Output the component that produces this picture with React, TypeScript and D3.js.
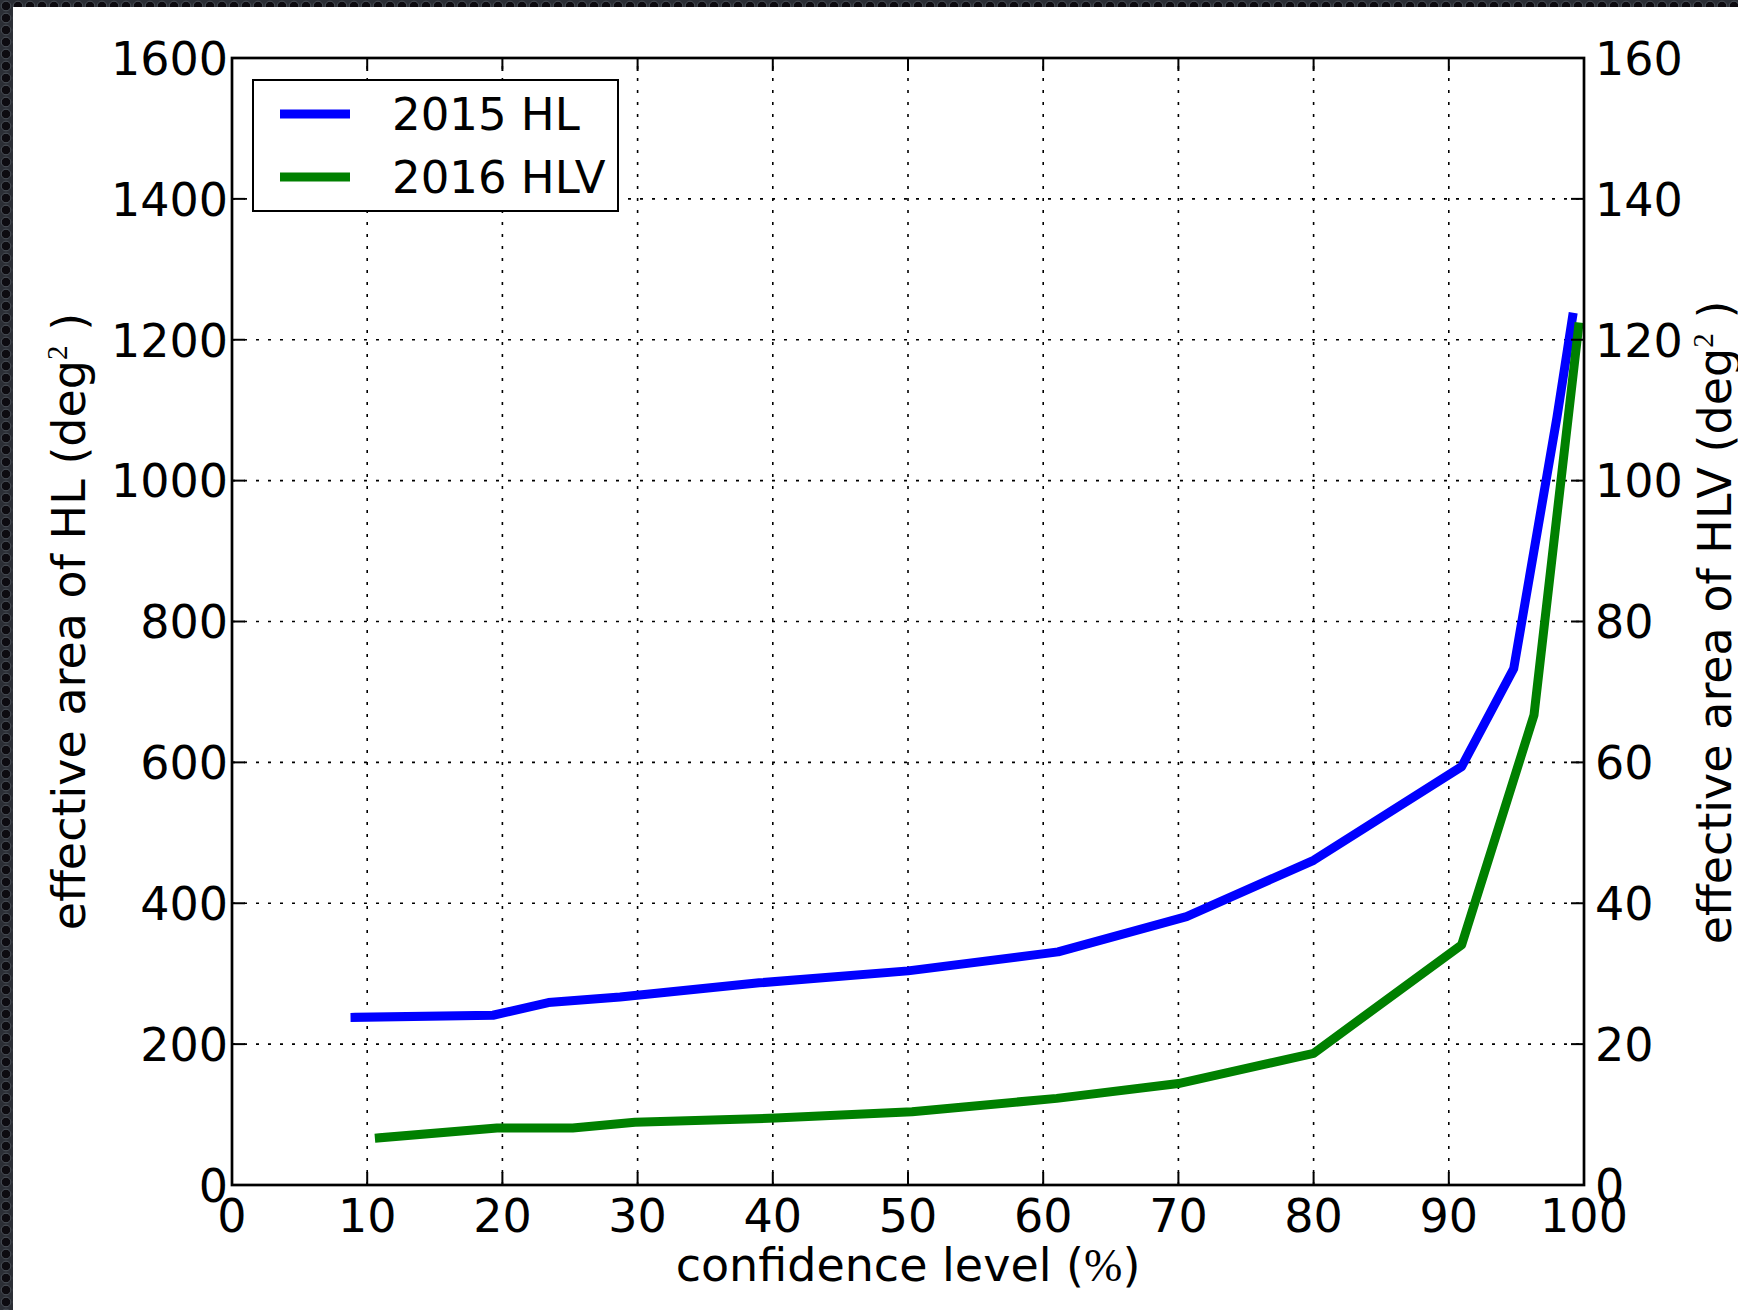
import { useEffect, useRef } from "react"
import * as d3 from "d3"

// 2015 HL (left axis, deg^2)
const confHL = [9.1, 19.3, 23.4, 28.7, 39, 50, 61.1, 70.6, 80, 90.95, 94.8, 98.0, 99.15]
const areaHL = [238, 241, 259, 267, 287, 304, 331, 381, 461, 594, 733, 1090, 1232]

// 2016 HLV (right axis, deg^2)
const confHLV = [10.9, 19.6, 25.2, 29.8, 40.2, 50.3, 61, 70, 80, 90.95, 96.3, 99.6]
const areaHLV = [6.7, 8.1, 8.1, 8.9, 9.5, 10.4, 12.3, 14.4, 18.7, 34.1, 66.7, 121.8]

const xTicks = [0, 10, 20, 30, 40, 50, 60, 70, 80, 90, 100]
const yLeftTicks = [0, 200, 400, 600, 800, 1000, 1200, 1400, 1600]
const yRightTicks = [0, 20, 40, 60, 80, 100, 120, 140, 160]

const seriesNames = ['2015 HL', '2016 HLV']
const seriesColors = ['#0000ff', '#008000']

const FONT = '"DejaVu Sans", sans-serif'

export default function App() {
    const ref = useRef<SVGSVGElement | null>(null)

    useEffect(() => {
        const svg = d3.select(ref.current)
        svg.selectAll('*').remove()
        buildGraph(svg)
    }, [])

    function buildGraph(svg: any, {
        width = 1738,
        height = 1310,
        left = 232,
        right = 1584,
        top = 58,
        bottom = 1185,
        fontSize = 46,
        tickLen = 13,
    } = {}) {
        const x = d3.scaleLinear().domain([0, 100]).range([left, right])
        const yL = d3.scaleLinear().domain([0, 1600]).range([bottom, top])
        const yR = d3.scaleLinear().domain([0, 160]).range([bottom, top])

        const defs = svg.append('defs')
        const pat = defs.append('pattern')
            .attr('id', 'bgdots')
            .attr('patternUnits', 'userSpaceOnUse')
            .attr('width', 12)
            .attr('height', 12)
        pat.append('rect').attr('width', 12).attr('height', 12).attr('fill', '#2b2e35')
        pat.append('circle')
            .attr('cx', 6).attr('cy', 6).attr('r', 4.8)
            .attr('fill', '#0d0b10')
            .attr('stroke', '#4a5058')
            .attr('stroke-width', 1)

        defs.append('clipPath').attr('id', 'plotclip')
            .append('rect')
                .attr('x', left).attr('y', top)
                .attr('width', right - left).attr('height', bottom - top)

        // background
        svg.append('rect').attr('width', width).attr('height', height).attr('fill', 'url(#bgdots)')
        svg.append('rect').attr('x', 13).attr('y', 7).attr('width', width - 13).attr('height', height - 7).attr('fill', '#fff')

        // grid
        const grid = svg.append('g')
            .attr('stroke', '#000')
            .attr('stroke-width', 1.6)
            .attr('stroke-dasharray', '3 9')
        grid.selectAll('line.gx')
            .data(xTicks)
            .join('line')
                .attr('class', 'gx')
                .attr('x1', (d: number) => x(d)).attr('x2', (d: number) => x(d))
                .attr('y1', bottom).attr('y2', top)
        grid.selectAll('line.gy')
            .data(yLeftTicks)
            .join('line')
                .attr('class', 'gy')
                .attr('x1', left).attr('x2', right)
                .attr('y1', (d: number) => yL(d)).attr('y2', (d: number) => yL(d))

        // lines
        const lineHL = d3.line<number>()
            .x((_, i) => x(confHL[i]))
            .y(d => yL(d))
        const lineHLV = d3.line<number>()
            .x((_, i) => x(confHLV[i]))
            .y(d => yR(d))

        const plot = svg.append('g').attr('clip-path', 'url(#plotclip)')
        plot.append('path')
            .attr('d', lineHL(areaHL))
            .attr('fill', 'none')
            .attr('stroke', seriesColors[0])
            .attr('stroke-width', 9)
            .attr('stroke-linejoin', 'round')
            .attr('stroke-linecap', 'square')
        plot.append('path')
            .attr('d', lineHLV(areaHLV))
            .attr('fill', 'none')
            .attr('stroke', seriesColors[1])
            .attr('stroke-width', 9)
            .attr('stroke-linejoin', 'round')
            .attr('stroke-linecap', 'square')

        // ticks
        const ticks = svg.append('g').attr('stroke', '#000').attr('stroke-width', 2)
        ticks.selectAll('line.tb')
            .data(xTicks)
            .join('line')
                .attr('class', 'tb')
                .attr('x1', (d: number) => x(d)).attr('x2', (d: number) => x(d))
                .attr('y1', bottom).attr('y2', bottom - tickLen)
        ticks.selectAll('line.tt')
            .data(xTicks)
            .join('line')
                .attr('class', 'tt')
                .attr('x1', (d: number) => x(d)).attr('x2', (d: number) => x(d))
                .attr('y1', top).attr('y2', top + tickLen)
        ticks.selectAll('line.tl')
            .data(yLeftTicks)
            .join('line')
                .attr('class', 'tl')
                .attr('x1', left).attr('x2', left + tickLen)
                .attr('y1', (d: number) => yL(d)).attr('y2', (d: number) => yL(d))
        ticks.selectAll('line.tr')
            .data(yRightTicks)
            .join('line')
                .attr('class', 'tr')
                .attr('x1', right).attr('x2', right - tickLen)
                .attr('y1', (d: number) => yR(d)).attr('y2', (d: number) => yR(d))

        // spines
        svg.append('rect')
            .attr('x', left).attr('y', top)
            .attr('width', right - left).attr('height', bottom - top)
            .attr('fill', 'none')
            .attr('stroke', '#000')
            .attr('stroke-width', 2.7)

        // tick labels
        const labels = svg.append('g')
            .attr('font-family', FONT)
            .attr('font-size', fontSize)
            .attr('fill', '#000')
        labels.selectAll('text.xl')
            .data(xTicks)
            .join('text')
                .attr('class', 'xl')
                .attr('x', (d: number) => x(d))
                .attr('y', 1232)
                .attr('text-anchor', 'middle')
                .text((d: number) => d)
        labels.selectAll('text.yl')
            .data(yLeftTicks)
            .join('text')
                .attr('class', 'yl')
                .attr('x', left - 4)
                .attr('y', (d: number) => yL(d) + 16.8)
                .attr('text-anchor', 'end')
                .text((d: number) => d)
        labels.selectAll('text.yr')
            .data(yRightTicks)
            .join('text')
                .attr('class', 'yr')
                .attr('x', right + 11)
                .attr('y', (d: number) => yR(d) + 16.8)
                .attr('text-anchor', 'start')
                .text((d: number) => d)

        // axis titles
        const xTitle = labels.append('text')
            .attr('x', (left + right) / 2)
            .attr('y', 1281)
            .attr('text-anchor', 'middle')
        xTitle.append('tspan').text('confidence level (')
        xTitle.append('tspan').attr('font-family', '"Liberation Serif", serif').text('%')
        xTitle.append('tspan').text(')')

        function yTitle(tx: number, ty: number, name: string) {
            const t = labels.append('text')
                .attr('transform', `translate(${tx},${ty})rotate(-90)`)
                .attr('text-anchor', 'middle')
            t.append('tspan').text(`effective area of ${name} (deg`)
            t.append('tspan')
                .attr('font-family', '"Liberation Serif", serif')
                .attr('font-size', 29)
                .attr('dy', -18)
                .text('2')
            t.append('tspan').attr('dy', 18).text('\u00a0)')
        }
        yTitle(85, (top + bottom) / 2, 'HL')
        yTitle(1731, (top + bottom) / 2 + 1, 'HLV')

        // legend
        const legend = svg.append('g')
        legend.append('rect')
            .attr('x', 253).attr('y', 80)
            .attr('width', 365).attr('height', 131)
            .attr('fill', '#fff')
            .attr('stroke', '#000')
            .attr('stroke-width', 2)
        const rowY = [114, 177]
        legend.selectAll('line')
            .data(seriesNames)
            .join('line')
                .attr('x1', 280).attr('x2', 350)
                .attr('y1', (_: string, i: number) => rowY[i])
                .attr('y2', (_: string, i: number) => rowY[i])
                .attr('stroke', (_: string, i: number) => seriesColors[i])
                .attr('stroke-width', 9)
        legend.selectAll('text')
            .data(seriesNames)
            .join('text')
                .attr('x', 392)
                .attr('y', (_: string, i: number) => rowY[i] + 16.4)
                .attr('font-family', FONT)
                .attr('font-size', 45)
                .text((d: string) => d)
    }

    return (<div>
        <style>{`body{margin:0}`}</style>
        <svg ref={ref} width={1738} height={1310} style={{ display: 'block' }} />
    </div>)
}
